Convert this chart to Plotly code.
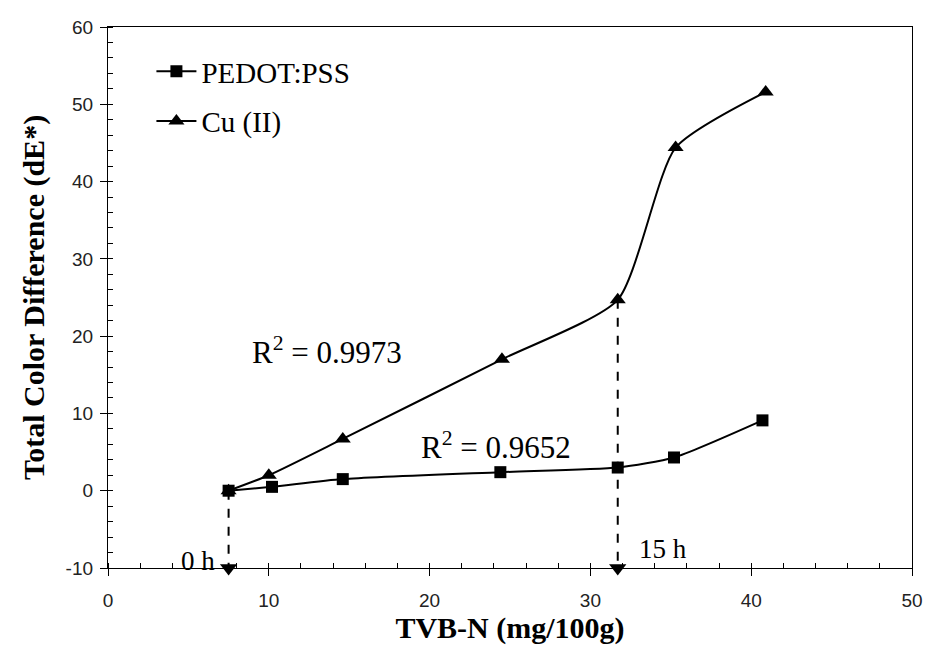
import plotly.graph_objects as go

# values
tvbn_pedot = [7.5, 10.2, 14.6, 24.4, 31.7, 35.2, 40.7]
de_pedot = [0.0, 0.5, 1.5, 2.4, 3.0, 4.3, 9.1]

tvbn_cu = [7.5, 10.0, 14.6, 24.5, 31.7, 35.3, 40.9]
de_cu = [0.0, 2.0, 6.7, 17.0, 24.7, 44.4, 51.6]

# dashed drop lines marking 0 h and 15 h
mark_x = [7.5, 31.7]
mark_top = [0.0, 24.7]
mark_labels = ["0 h", "15 h"]
y_floor = -10

r2_labels = ["R<sup>2</sup> = 0.9973", "R<sup>2</sup> = 0.9652"]
r2_x = [13.6, 24.1]
r2_y = [18.2, 5.9]

y_ticks = [-10, 0, 10, 20, 30, 40, 50, 60]
y_ticklabels = ["-10", "0", "10", "20", "30", "40", "50", "60"]

serif = "Liberation Serif, Times New Roman, serif"
sans = "Liberation Sans, Arial, sans-serif"

fig = go.Figure()

for i in range(len(mark_x)):
    fig.add_trace(go.Scatter(
        x=[mark_x[i], mark_x[i]], y=[mark_top[i], y_floor],
        mode="lines", line=dict(color="black", width=2, dash="dash"),
        showlegend=False, hoverinfo="skip"))

fig.add_trace(go.Scatter(
    x=mark_x, y=[y_floor] * len(mark_x), mode="markers",
    marker=dict(symbol="triangle-down", size=15, color="black"),
    showlegend=False, cliponaxis=False, hoverinfo="skip"))

fig.add_trace(go.Scatter(
    x=tvbn_pedot, y=de_pedot, mode="lines+markers", name="PEDOT:PSS",
    legendgroup="a",
    line=dict(color="black", width=2, shape="spline", smoothing=0.6),
    marker=dict(symbol="square", size=12, color="black")))

fig.add_trace(go.Scatter(
    x=tvbn_cu, y=de_cu, mode="lines+markers", name="Cu (II)",
    legendgroup="b",
    line=dict(color="black", width=2, shape="spline", smoothing=0.6),
    marker=dict(symbol="triangle-up", size=14, color="black")))

for lab, x, y in zip(r2_labels, r2_x, r2_y):
    fig.add_annotation(x=x, y=y, text=lab, showarrow=False,
                       font=dict(family=serif, size=31, color="black"))

fig.add_annotation(x=6.8, y=-9.1, text=mark_labels[0], showarrow=False,
                   xanchor="right", font=dict(family=serif, size=27, color="black"))
fig.add_annotation(x=32.9, y=-7.6, text=mark_labels[1], showarrow=False,
                   xanchor="left", font=dict(family=serif, size=27, color="black"))

axis_common = dict(
    showgrid=False, zeroline=False, showline=True, linecolor="black",
    linewidth=1.3, mirror=True, ticks="outside", ticklen=7,
    tickcolor="black", tickwidth=1.3, automargin=False,
    tickfont=dict(family=sans, size=19, color="#222"),
)

fig.update_xaxes(
    range=[0, 50], dtick=10, tick0=0, ticklabelstandoff=8,
    minor=dict(dtick=2, ticks="inside", ticklen=5, tickcolor="black"),
    title=dict(text="<b>TVB-N (mg/100g)</b>", font=dict(family=serif, size=30, color="black"),
               standoff=7),
    **axis_common)
fig.update_yaxes(
    range=[-10, 60], tickvals=y_ticks, ticktext=y_ticklabels, ticklabelstandoff=3,
    minor=dict(dtick=2, tick0=0, ticks="inside", ticklen=5, tickcolor="black"),
    title=dict(text="<b>Total Color Difference (dE*)</b>",
               font=dict(family=serif, size=30, color="black"), standoff=12),
    **axis_common)

fig.update_layout(
    width=926, height=659,
    margin=dict(l=108, r=14, t=27, b=91),
    plot_bgcolor="white", paper_bgcolor="white",
    legend=dict(x=0.054, y=0.965, xanchor="left", yanchor="top",
                bgcolor="rgba(0,0,0,0)",
                font=dict(family=serif, size=29, color="black"),
                tracegroupgap=9, itemwidth=40),
)

# drop the browser's default 8px body margin so the figure sits at (0, 0)
fig.write_html("out.html", config={"displayModeBar": False},
               post_script="document.body.style.margin='0';")
